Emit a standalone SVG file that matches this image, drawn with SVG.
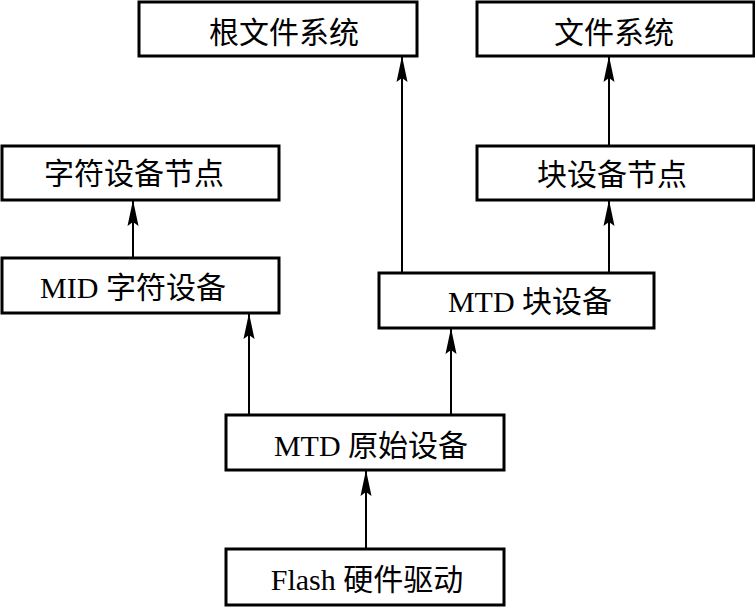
<svg xmlns="http://www.w3.org/2000/svg" width="755" height="607" viewBox="0 0 755 607">
<defs>
<style>
.box{fill:#fff;stroke:#000;stroke-width:3}
.lbl{font-family:"Liberation Serif","Noto Sans CJK SC",serif;font-size:30px;fill:#000;text-anchor:middle}
.con{stroke:#000;stroke-width:2;fill:none;marker-end:url(#ah)}
</style>
<marker id="ah" markerUnits="userSpaceOnUse" markerWidth="26" markerHeight="12" viewBox="0 0 26 12" refX="25" refY="6" orient="auto">
<path d="M26 6 L0 0.5 L4 6 L0 11.5 Z" fill="#000"/>
</marker>
</defs>
<rect width="755" height="607" fill="#fff"/>
<g id="connectors">
<path class="con" d="M133 258 V201"/>
<path class="con" d="M249 415 V314"/>
<path class="con" d="M451 415 V329"/>
<path class="con" d="M366 549 V471"/>
<path class="con" d="M402 273 V57"/>
<path class="con" d="M609 146 V57"/>
<path class="con" d="M609 273 V201"/>
</g>
<g id="n_rootfs"><rect class="box" x="139" y="2" width="278" height="54"/><text class="lbl" x="284" y="43">根文件系统</text></g>
<g id="n_fs"><rect class="box" x="477" y="2" width="277" height="54"/><text class="lbl" x="614" y="43">文件系统</text></g>
<g id="n_charnode"><rect class="box" x="2" y="146" width="277" height="54"/><text class="lbl" x="134" y="184">字符设备节点</text></g>
<g id="n_blknode"><rect class="box" x="477" y="146" width="277" height="54"/><text class="lbl" x="612" y="185">块设备节点</text></g>
<g id="n_midchar"><rect class="box" x="2" y="258" width="277" height="55"/><text class="lbl" x="133" y="298">MID 字符设备</text></g>
<g id="n_mtdblk"><rect class="box" x="379" y="273" width="275" height="55"/><text class="lbl" x="530" y="312">MTD 块设备</text></g>
<g id="n_mtdraw"><rect class="box" x="226" y="415" width="278" height="55"/><text class="lbl" x="371" y="456">MTD 原始设备</text></g>
<g id="n_flash"><rect class="box" x="226" y="549" width="278" height="56"/><text class="lbl" x="367" y="590">Flash 硬件驱动</text></g>
</svg>
